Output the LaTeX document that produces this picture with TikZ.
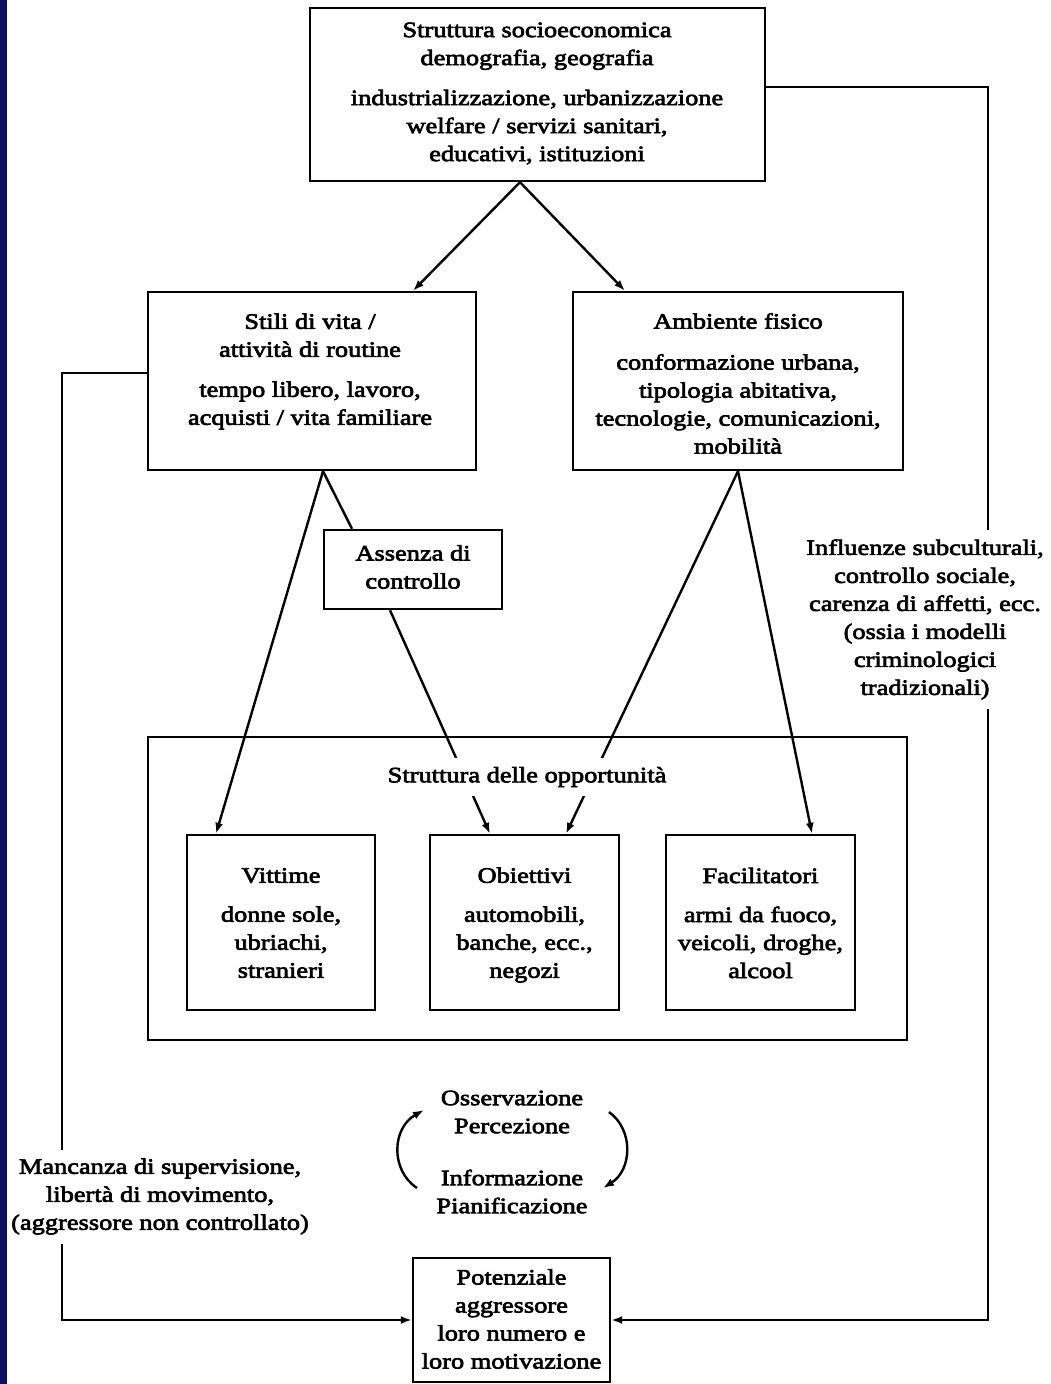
\documentclass[tikz,border=0pt]{standalone}
\usepackage{fontspec}
\setmainfont{Liberation Serif}[FakeStretch=1.2,FakeBold=3]
\usetikzlibrary{arrows.meta,calc}
\definecolor{navystrip}{RGB}{14,16,92}
\newcommand{\dfont}{\fontsize{22}{28}\selectfont}
\begin{document}
\begin{tikzpicture}[x=1pt,y=-1pt,line width=2.4pt,
  box/.style={draw,line width=2.4pt,inner sep=0pt},
  txt/.style={align=center,font=\dfont,inner sep=0pt},
  arr/.style={-{Latex[length=11pt,width=8pt]}},
  cover/.style={txt,fill=white,inner xsep=3pt,inner ysep=9pt}]
\fill[white] (0,0) rectangle (1051,1384);
\useasboundingbox (0,0) rectangle (1051,1384);
\fill[navystrip] (0,0) rectangle (7,1384);

% boxes
\node[box,minimum width=455pt,minimum height=173pt] (top) at (537.5,94.5) {};
\node[txt] (topt) at (537,93.5) {Struttura socioeconomica\\ demografia, geografia\\[12pt] industrializzazione, urbanizzazione\\ welfare / servizi sanitari,\\ educativi, istituzioni};

\node[box,minimum width=328pt,minimum height=178pt] (stili) at (312,381) {};
\node[txt] (stilit) at (310,371.5) {Stili di vita /\\ attività di routine\\[12pt] tempo libero, lavoro,\\ acquisti / vita familiare};

\node[box,minimum width=330pt,minimum height=178pt] (amb) at (738,381) {};
\node[txt] (ambt) at (738,383.5) {Ambiente fisico\\[13pt] conformazione urbana,\\ tipologia abitativa,\\ tecnologie, comunicazioni,\\ mobilità};

\node[box,minimum width=178pt,minimum height=79pt] (ass) at (413,569.5) {};
\node[txt] (asst) at (413,567) {Assenza di\\ controllo};

\node[box,minimum width=759pt,minimum height=303pt] (opp) at (527.5,888.5) {};

\node[box,minimum width=188pt,minimum height=175pt] (vit) at (281,922.5) {};
\node[txt] (vitt) at (281,923) {Vittime\\[11pt] donne sole,\\ ubriachi,\\ stranieri};
\node[box,minimum width=189pt,minimum height=175pt] (obi) at (524.5,922.5) {};
\node[txt] (obit) at (524.5,925) {Obiettivi\\[11pt] automobili,\\ banche, ecc.,\\ negozi};
\node[box,minimum width=189pt,minimum height=175pt] (fac) at (760.5,922.5) {};
\node[txt] (fact) at (760.5,923) {Facilitatori\\[11pt] armi da fuoco,\\ veicoli, droghe,\\ alcool};

\node[box,minimum width=197pt,minimum height=124pt] (pot) at (511.5,1320) {};
\node[txt] (pott) at (511.5,1319) {Potenziale\\ aggressore\\ loro numero e\\ loro motivazione};

\node[txt] (cyc) at (512,1152) {Osservazione\\ Percezione\\[24pt] Informazione\\ Pianificazione};

% connectors
\draw[arr] ([xshift=-17.5pt]top.south) -- ([xshift=101pt]stili.north);
\draw[arr] ([xshift=-17.5pt]top.south) -- ([xshift=-113pt]amb.north);
\draw[arr] ([xshift=11pt]stili.south) -- ([xshift=-65pt]vit.north);
\draw ([xshift=11pt]stili.south) -- ([xshift=-61pt]ass.north);
\draw[arr] ([xshift=-23pt]ass.south) -- ([xshift=-34.5pt]obi.north);
\draw[arr] (amb.south) -- ([xshift=41.5pt]obi.north);
\draw[arr] (amb.south) -- ([xshift=51.5pt]fac.north);

\coordinate (rx) at (988,700);
\coordinate (lx) at (62,800);
\draw[arr] ([yshift=7.5pt]top.east) -| (rx) |- (pot.east);
\draw[arr] ([yshift=8pt]stili.west) -| (lx) |- (pot.west);

% cycle arcs
\coordinate (c1) at (417,1188);
\coordinate (c2) at (424,1110);
\coordinate (c3) at (609,1112);
\coordinate (c4) at (603,1188);
\draw[arr] (c1) .. controls (390,1170) and (392,1128) .. (c2);
\draw[arr] (c3) .. controls (634,1130) and (632,1170) .. (c4);

% labels that interrupt lines
\node[cover] (oppt) at (527,777) {Struttura delle opportunità};
\node[cover] (infl) at (925,619.5) {Influenze subculturali,\\ controllo sociale,\\ carenza di affetti, ecc.\\ (ossia i modelli\\ criminologici\\ tradizionali)};
\node[cover,inner xsep=1pt] (manc) at (160,1196.5) {Mancanza di supervisione,\\ libertà di movimento,\\ (aggressore non controllato)};
\end{tikzpicture}
\end{document}
